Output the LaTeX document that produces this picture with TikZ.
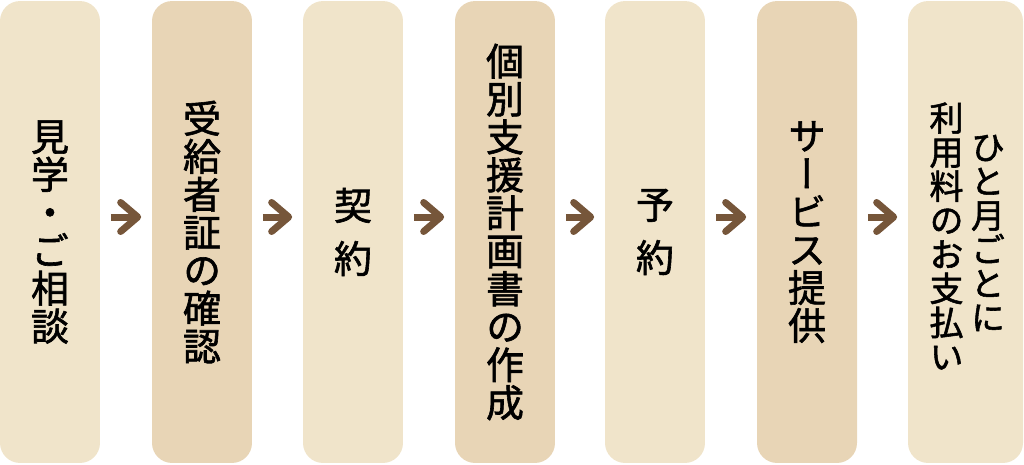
\documentclass[tikz,border=0pt]{standalone}
\usepackage{fontspec}
\newfontfamily\jp[RawFeature=+vert, FakeBold=1.6]{Noto Sans CJK JP}
\usetikzlibrary{arrows.meta}

\definecolor{paperlight}{RGB}{240,228,202}
\definecolor{paperdark}{RGB}{232,213,182}
\definecolor{arrowbrown}{RGB}{118,86,58}

\tikzset{
  stage/.style={rounded corners=0.4cm, minimum width=2cm, minimum height=9.24cm,
    inner sep=0pt, align=center, font=\jp\fontsize{21.6pt}{21.6pt}\selectfont},
  widestage/.style={font=\jp\fontsize{21.6pt}{30.2pt}\selectfont},
  smallcol/.style={inner sep=0pt, align=center, font=\jp\fontsize{19.4pt}{19.4pt}\selectfont},
  flowarrow/.style={line width=0.14cm, draw=arrowbrown, shorten <=0.21cm, shorten >=0.21cm,
    -{Straight Barb[length=0.34cm, width=0.58cm, round]}}
}

\begin{document}
\begin{tikzpicture}[x=0.02cm, y=-0.02cm]
  \useasboundingbox (0,0) rectangle (1024,464);

  % Etapas
  \node[stage, fill=paperlight] (s1) at (50,232) {見\\学\\・\\ご\\相\\談};
  \node[stage, fill=paperdark] (s2) at (202,232) {受\\給\\者\\証\\の\\確\\認};
  \node[stage, widestage, fill=paperlight] (s3) at (353,232) {契\\約};
  \node[stage, fill=paperdark] (s4) at (505,232) {個\\別\\支\\援\\計\\画\\書\\の\\作\\成};
  \node[stage, widestage, fill=paperlight] (s5) at (655,232) {予\\約};
  \node[stage, fill=paperdark] (s6) at (807,232) {サ\\ー\\ビ\\ス\\提\\供};
  \node[stage, fill=paperlight, minimum width=2.3cm] (s7) at (965.5,232) {};

  % Texto em duas colunas
  \node[smallcol] (s7r) at (988,233) {ひ\\と\\月\\ご\\と\\に};
  \node[smallcol] (s7l) at (946.5,236) {利\\用\\料\\の\\お\\支\\払\\い};

  % Setas
  \foreach \a/\b in {s1/s2, s2/s3, s3/s4, s4/s5, s5/s6, s6/s7}
    \draw[flowarrow] ([yshift=0.3cm]\a.east) -- ([yshift=0.3cm]\b.west);
\end{tikzpicture}
\end{document}
